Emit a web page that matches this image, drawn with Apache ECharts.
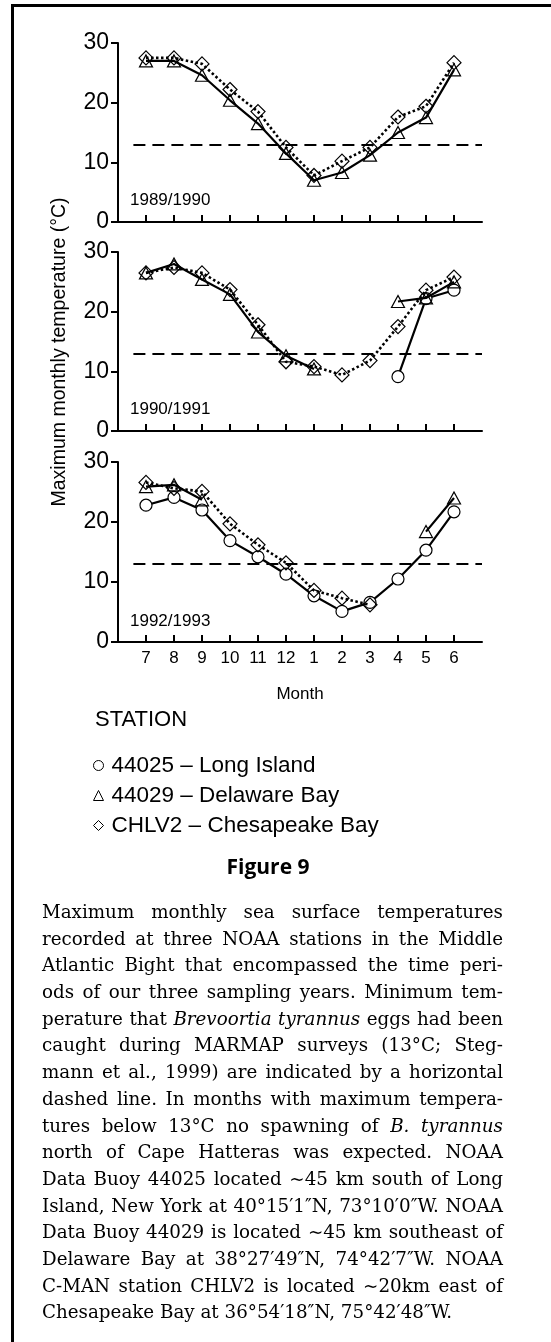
<!DOCTYPE html>
<html><head><meta charset="utf-8">
<script src="https://cdn.jsdelivr.net/npm/echarts@6/dist/echarts.min.js"></script>
<style>
html,body{margin:0;padding:0;background:#fff;}
#wrap{position:relative;width:551px;height:1342px;overflow:hidden;background:#fff;}
#frame{position:absolute;left:11px;top:4px;width:700px;height:1500px;border-left:3px solid #000;border-top:3px solid #000;}
#chart{position:absolute;left:0;top:0;width:551px;height:1342px;}
#caption{position:absolute;left:42px;top:899px;width:461px;font-family:'DejaVu Serif',serif;font-size:18.3px;line-height:26.7px;color:#000;}
#caption div{text-align:justify;text-align-last:justify;height:26.7px;overflow:visible;}
#caption div.last{text-align:left;text-align-last:left;}
</style></head>
<body><div id="wrap"><div id="frame"></div><div id="chart"></div>
<div id="caption">
<div>Maximum monthly sea surface temperatures</div>
<div>recorded at three NOAA stations in the Middle</div>
<div>Atlantic Bight that encompassed the time peri-</div>
<div>ods of our three sampling years. Minimum tem-</div>
<div>perature that <i>Brevoortia tyrannus</i> eggs had been</div>
<div>caught during MARMAP surveys (13°C; Steg-</div>
<div>mann et al., 1999) are indicated by a horizontal</div>
<div>dashed line. In months with maximum tempera-</div>
<div>tures below 13°C no spawning of <i>B. tyrannus</i></div>
<div>north of Cape Hatteras was expected. NOAA</div>
<div>Data Buoy 44025 located ~45 km south of Long</div>
<div>Island, New York at 40°15′1″N, 73°10′0″W. NOAA</div>
<div>Data Buoy 44029 is located ~45 km southeast of</div>
<div>Delaware Bay at 38°27′49″N, 74°42′7″W. NOAA</div>
<div>C-MAN station CHLV2 is located ~20km east of</div>
<div class="last">Chesapeake Bay at 36°54′18″N, 75°42′48″W.</div>
</div>
</div>
<script>
// ---- data ----
const MONTHS = ['7','8','9','10','11','12','1','2','3','4','5','6'];
const PANEL_LABELS = ['1989/1990','1990/1991','1992/1993'];
const STATION_NAMES = ['44025 – Long Island','44029 – Delaware Bay','CHLV2 – Chesapeake Bay'];
const THRESHOLD = 13;

// 1989/1990
const delaware8990   = [27.0, 27.0, 24.6, 20.4, 16.5, 11.5, 7.0, 8.3, 11.2, 15.0, 17.5, 25.5];
const chesapeake8990 = [27.5, 27.5, 26.5, 22.2, 18.5, 12.5, 7.8, 10.2, 12.5, 17.6, 19.4, 26.7];
// 1990/1991
const longIsland9091 = [null, null, null, null, null, null, null, null, null, 9.1, 22.2, 23.6];
const delaware9091   = [26.5, 28.0, 25.4, 22.9, 16.6, 12.6, 10.4, null, null, 21.7, 22.3, 25.0];
const chesapeake9091 = [26.5, 27.4, 26.5, 23.7, 17.8, 11.6, 10.8, 9.4, 11.8, 17.5, 23.6, 25.8];
// 1992/1993
const longIsland9293 = [22.8, 24.1, 22.0, 16.9, 14.2, 11.3, 7.7, 5.1, 6.6, 10.5, 15.3, 21.7];
const delaware9293   = [25.9, 26.2, 23.7, null, null, null, null, null, null, null, 18.4, 24.0];
const chesapeake9293 = [26.6, 25.6, 25.1, 19.7, 16.2, 13.2, 8.6, 7.3, 6.2, null, null, null];

const PANELS = [
  {li: null, de: delaware8990, ch: chesapeake8990},
  {li: longIsland9091, de: delaware9091, ch: chesapeake9091},
  {li: longIsland9293, de: delaware9293, ch: chesapeake9293}
];

// ---- build ----
const FONT = 'Liberation Sans';
const POS = MONTHS.map((m,i)=>i+7);
const toPairs = arr => arr.map((v,i)=>[i+7, v]);
const gridTops = [43, 252, 462];
const gridHeights = [179, 179, 180];

const grids = [], xAxes = [], yAxes = [], series = [];
PANELS.forEach((p, k) => {
  grids.push({left:118, top:gridTops[k], width:364, height:gridHeights[k], outerBoundsMode:'none'});
  xAxes.push({
    type:'value', gridIndex:k, min:6, max:19, interval:1,
    axisLine:{show:true, onZero:false, lineStyle:{color:'#000', width:2}},
    axisTick:{show:true, inside:true, length:7, lineStyle:{color:'#000', width:2}, customValues:POS},
    axisLabel:{show:k===2, customValues:POS, formatter:v=>MONTHS[v-7], color:'#000', fontFamily:FONT, fontSize:17, margin:8},
    splitLine:{show:false},
    name: k===2 ? 'Month' : '', nameLocation:'middle', nameGap:44,
    nameTextStyle:{color:'#000', fontFamily:FONT, fontSize:17}
  });
  yAxes.push({
    type:'value', gridIndex:k, min:0, max:30, interval:10,
    axisLine:{show:true, lineStyle:{color:'#000', width:2}},
    axisTick:{show:true, length:7, lineStyle:{color:'#000', width:2}},
    axisLabel:{color:'#000', fontFamily:FONT, fontSize:23, margin:9},
    splitLine:{show:false}
  });
  const ml = {
    silent:true, symbol:'none', label:{show:false},
    lineStyle:{color:'#000', type:[12,7], width:2},
    data:[[{coord:[6.55, THRESHOLD]},{coord:[19, THRESHOLD]}]]
  };
  if (p.li) series.push({
    name:STATION_NAMES[0], type:'line', xAxisIndex:k, yAxisIndex:k, data:toPairs(p.li),
    symbol:'circle', symbolSize:12, z:3,
    itemStyle:{color:'#fff', borderColor:'#000', borderWidth:1.2},
    lineStyle:{color:'#000', width:2.2}, connectNulls:false
  });
  series.push({
    name:STATION_NAMES[1], type:'line', xAxisIndex:k, yAxisIndex:k, data:toPairs(p.de),
    symbol:'triangle', symbolSize:[13,12], z:4,
    itemStyle:{color:'rgba(255,255,255,0)', borderColor:'#000', borderWidth:1.2},
    lineStyle:{color:'#000', width:2.2}, connectNulls:false
  });
  series.push({
    name:STATION_NAMES[2], type:'line', xAxisIndex:k, yAxisIndex:k, data:toPairs(p.ch),
    symbol:'diamond', symbolSize:[14,14], z:5,
    itemStyle:{color:'rgba(255,255,255,0)', borderColor:'#000', borderWidth:1.2},
    lineStyle:{color:'#000', width:2.6, type:[2.5,2.5]}, connectNulls:false,
    markLine: ml
  });
});

const graphic = [
  {type:'text', x:60, y:352, rotation:Math.PI/2, style:{text:'Maximum monthly temperature (°C)', fill:'#000', font:'19.5px "Liberation Sans"', align:'center', verticalAlign:'middle'}},
  {type:'text', x:95, y:720, style:{text:'STATION', fill:'#000', font:'22px "Liberation Sans"', verticalAlign:'middle'}},
  {type:'text', x:268, y:868, style:{text:'Figure 9', fill:'#000', font:'bold 21px "Open Sans"', align:'center', verticalAlign:'middle'}}
];
PANEL_LABELS.forEach((t,k)=>{
  graphic.push({type:'text', x:130, y:[200,409,621][k], style:{text:t, fill:'#000', font:'17px "Liberation Sans"', verticalAlign:'middle'}});
});

const chart = echarts.init(document.getElementById('chart'), null, {renderer:'canvas'});
chart.setOption({
  animation:false,
  backgroundColor:'transparent',
  grid:grids, xAxis:xAxes, yAxis:yAxes, series:series,
  legend:{
    orient:'vertical', left:88, top:749, itemWidth:10, itemHeight:10, itemGap:7,
    textStyle:{color:'#000', fontFamily:FONT, fontSize:22.5, padding:[0,0,0,3]},
    data:[
      {name:STATION_NAMES[0], icon:'circle', itemStyle:{color:'#fff', borderColor:'#000', borderWidth:1}},
      {name:STATION_NAMES[1], icon:'triangle', itemStyle:{color:'#fff', borderColor:'#000', borderWidth:1}},
      {name:STATION_NAMES[2], icon:'diamond', itemStyle:{color:'#fff', borderColor:'#000', borderWidth:1}}
    ],
    selectedMode:false
  },
  graphic:graphic
});
</script>
</body></html>
